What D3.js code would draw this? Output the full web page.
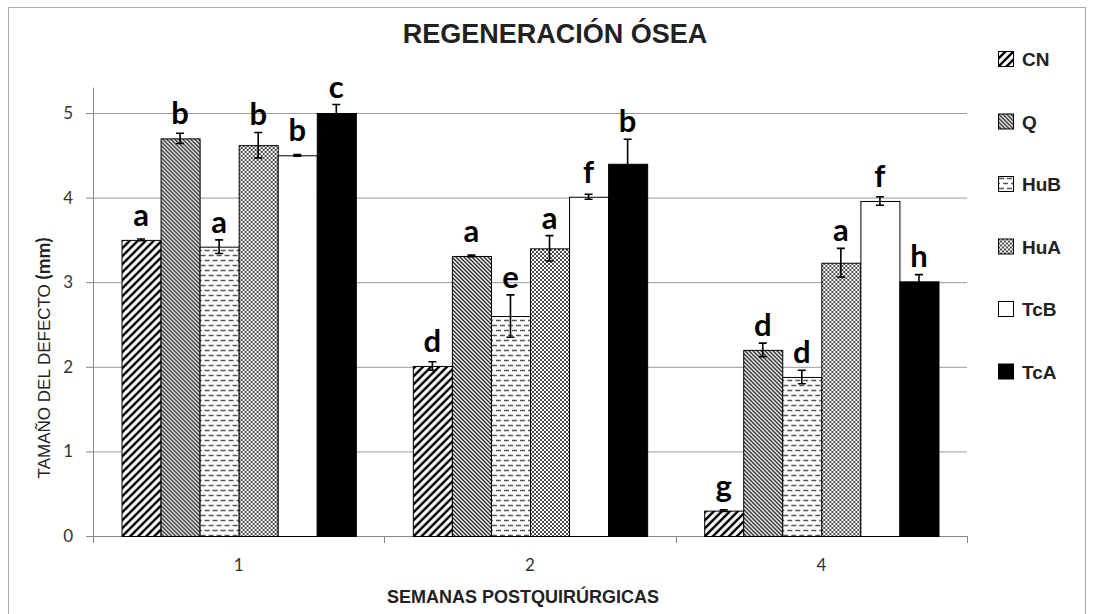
<!DOCTYPE html>
<html>
<head>
<meta charset="utf-8">
<script src="https://cdn.jsdelivr.net/npm/d3@7"></script>
<style>
  body { margin: 0; background: #fff; }
  svg { display: block; }
</style>
</head>
<body>
<div id="chart"></div>
<script>
// weeks after surgery
const categories = ["1", "2", "4"];
const series = ["CN", "Q", "HuB", "HuA", "TcB", "TcA"];

// defect size (mm) per week, series in the order above
const week1 = [3.50, 4.70, 3.42, 4.62, 4.50, 5.00];
const week2 = [2.01, 3.31, 2.60, 3.40, 4.01, 4.40];
const week4 = [0.30, 2.20, 1.88, 3.23, 3.96, 3.01];
const err1 = [0.01, 0.06, 0.08, 0.15, 0.01, 0.10];
const err2 = [0.05, 0.01, 0.25, 0.15, 0.03, 0.29];
const err4 = [0.01, 0.08, 0.08, 0.17, 0.05, 0.08];
const letters1 = ["a", "b", "a", "b", "b", "c"];
const letters2 = ["d", "a", "e", "a", "f", "b"];
const letters4 = ["g", "d", "d", "a", "f", "h"];
const yTicks = [0, 1, 2, 3, 4, 5];

const values = [week1, week2, week4];
const errors = [err1, err2, err4];
const letters = [letters1, letters2, letters4];

const W = 1093, H = 614;
const margin = {top: 113, left: 93, right: 126, bottom: 78};
const width = W - margin.left - margin.right,
      height = H - margin.top - margin.bottom;

const svg = d3.select("#chart").append("svg")
  .attr("width", W).attr("height", H);

// patterns
const defs = svg.append("defs");
const pCN = defs.append("pattern").attr("id", "p-CN")
  .attr("patternUnits", "userSpaceOnUse").attr("width", 8).attr("height", 8);
pCN.append("rect").attr("width", 8).attr("height", 8).attr("fill", "#fff");
pCN.append("path").attr("d", "M-2,10 L10,-2 M-6,6 L6,-6 M2,14 L14,2")
  .attr("stroke", "#000").attr("stroke-width", 2.4);

const pQ = defs.append("pattern").attr("id", "p-Q")
  .attr("patternUnits", "userSpaceOnUse").attr("width", 4).attr("height", 4);
pQ.append("rect").attr("width", 4).attr("height", 4).attr("fill", "#fff");
pQ.append("path").attr("d", "M-1,-1 L5,5 M-1,3 L1,5 M3,-1 L5,1")
  .attr("stroke", "#222").attr("stroke-width", 1.4);

const pHuB = defs.append("pattern").attr("id", "p-HuB")
  .attr("patternUnits", "userSpaceOnUse").attr("width", 8).attr("height", 10);
pHuB.append("rect").attr("width", 8).attr("height", 10).attr("fill", "#fff");
pHuB.append("path").attr("d", "M1,2.5 H6 M-3,7.5 H2 M5,7.5 H10")
  .attr("stroke", "#555").attr("stroke-width", 1.3);

const pHuA = defs.append("pattern").attr("id", "p-HuA")
  .attr("patternUnits", "userSpaceOnUse").attr("width", 4).attr("height", 4);
pHuA.append("rect").attr("width", 4).attr("height", 4).attr("fill", "#fff");
pHuA.append("circle").attr("cx", 1).attr("cy", 1).attr("r", 1).attr("fill", "#111");
pHuA.append("circle").attr("cx", 3).attr("cy", 3).attr("r", 1).attr("fill", "#111");

const fills = {CN: "url(#p-CN)", Q: "url(#p-Q)", HuB: "url(#p-HuB)",
               HuA: "url(#p-HuA)", TcB: "#fff", TcA: "#000"};

// outer frame
svg.append("rect").attr("x", 8.5).attr("y", 7.5).attr("width", 1077).attr("height", 620)
  .attr("fill", "none").attr("stroke", "#aaa");

const g = svg.append("g")
  .attr("transform", "translate(" + margin.left + "," + margin.top + ")");

var x0 = d3.scaleBand().domain(categories).range([0, width]).padding(0);
var x1 = d3.scaleBand().domain(series).range([0, x0.bandwidth()])
  .paddingInner(0).paddingOuter(0.73);
var y = d3.scaleLinear().domain([0, 5]).range([height, 0]);

// gridlines
g.append("g").selectAll("line").data(yTicks.slice(1)).enter().append("line")
  .attr("x1", 0).attr("x2", width)
  .attr("y1", d => y(d) + 0.5).attr("y2", d => y(d) + 0.5)
  .attr("stroke", "#999").attr("stroke-width", 1);

// y axis
const yAxis = g.append("g")
  .call(d3.axisLeft(y).tickValues(yTicks).tickSize(7).tickPadding(13).tickFormat(d3.format("d")));
yAxis.select(".domain").attr("d", "M0.5," + (y(5.3)) + "V" + height).attr("stroke", "#888");
yAxis.selectAll(".tick line").attr("stroke", "#888");
yAxis.selectAll("text").attr("font-family", "Lato, sans-serif").attr("font-size", 17)
  .attr("fill", "#333");

// x axis
const xAxis = g.append("g").attr("transform", "translate(0," + height + ")")
  .call(d3.axisBottom(x0).tickSize(0).tickPadding(23));
xAxis.select(".domain").attr("stroke", "#888");
xAxis.selectAll("text").attr("font-family", "Lato, sans-serif").attr("font-size", 17)
  .attr("fill", "#333");
g.append("g").selectAll("line").data([0, 1, 2, 3]).enter().append("line")
  .attr("x1", d => Math.round(d * x0.step()) + 0.5).attr("x2", d => Math.round(d * x0.step()) + 0.5)
  .attr("y1", height).attr("y2", height + 7).attr("stroke", "#888");

// bars
const rows = [];
categories.forEach(function(c, i) {
  series.forEach(function(s, j) {
    rows.push({cat: c, s: s, v: values[i][j], e: errors[i][j], l: letters[i][j]});
  });
});

const groups = g.selectAll(".bar").data(rows).enter().append("g").attr("class", "bar")
  .attr("transform", d => "translate(" + (x0(d.cat) + x1(d.s)) + ",0)");

groups.append("rect")
  .attr("x", 0.5).attr("y", d => y(d.v) + 0.5)
  .attr("width", x1.bandwidth()).attr("height", d => height - y(d.v))
  .attr("fill", d => fills[d.s]).attr("stroke", "#000").attr("stroke-width", 1);

// error bars
const bw = x1.bandwidth();
groups.append("path")
  .attr("d", function(d) {
    const cx = bw / 2, t = y(d.v + d.e), b = y(d.v - d.e);
    return "M" + cx + "," + b + "V" + t + "M" + (cx - 4) + "," + t + "H" + (cx + 4) +
           "M" + (cx - 4) + "," + b + "H" + (cx + 4);
  })
  .attr("stroke", "#000").attr("stroke-width", 1.6).attr("fill", "none");

// letters
groups.append("text")
  .attr("x", bw / 2)
  .attr("y", d => Math.min(y(d.v) - 14, y(d.v + d.e) - 7))
  .attr("text-anchor", "middle")
  .attr("font-family", "Lato, sans-serif").attr("font-weight", "bold").attr("font-size", 31)
  .text(d => d.l);

// title
svg.append("text").attr("x", 555).attr("y", 43).attr("text-anchor", "middle")
  .attr("font-family", "Liberation Sans, Arial, sans-serif").attr("font-weight", "bold")
  .attr("font-size", 27).attr("fill", "#222").text("REGENERACIÓN ÓSEA");

// axis titles
svg.append("text").attr("x", 523).attr("y", 603).attr("text-anchor", "middle")
  .attr("font-family", "Liberation Sans, Arial, sans-serif").attr("font-weight", "bold")
  .attr("font-size", 18).attr("fill", "#222").text("SEMANAS POSTQUIRÚRGICAS");

const yl = svg.append("text").attr("transform", "translate(50,358) rotate(-90)")
  .attr("text-anchor", "middle").attr("fill", "#222");
yl.append("tspan").attr("font-family", "Liberation Sans, Arial, sans-serif")
  .attr("font-size", 17).text("TAMAÑO DEL DEFECTO ");
yl.append("tspan").attr("font-family", "Lato, sans-serif").attr("font-weight", "bold")
  .attr("font-size", 19).text("(mm)");

// legend
const legend = svg.append("g").attr("transform", "translate(998,51)");
const items = legend.selectAll("g").data(series).enter().append("g")
  .attr("transform", (d, i) => "translate(0," + (i * 62.5) + ")");
items.append("rect").attr("x", 0.5).attr("y", 0.5).attr("width", 15).attr("height", 15)
  .attr("fill", d => fills[d]).attr("stroke", "#000");
items.append("text").attr("x", 24).attr("y", 15)
  .attr("font-family", "Liberation Sans, Arial, sans-serif").attr("font-weight", "bold")
  .attr("font-size", 19).attr("fill", "#222").text(d => d);
</script>
</body>
</html>
